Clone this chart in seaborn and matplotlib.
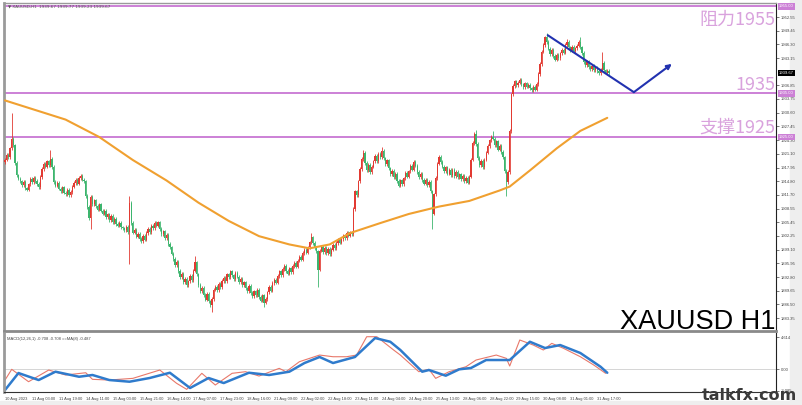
import numpy as np
import matplotlib
matplotlib.use("Agg")
import matplotlib.pyplot as plt
from matplotlib.patches import Rectangle
import seaborn as sns

# XAUUSD H1 closes, 10 Aug 2023 -> 31 Aug 17:00
closes = [
    1919.8, 1920.9, 1920.3, 1922.4, 1924.6, 1923.1, 1919.0, 1916.2, 1915.4, 1914.8,
    1913.9, 1914.6, 1913.2, 1912.9, 1914.1, 1915.3, 1914.7, 1915.6, 1914.9, 1914.2,
    1913.5, 1915.8, 1917.6, 1918.9, 1918.2, 1919.4, 1918.6, 1919.9, 1918.1, 1914.6,
    1913.8, 1914.5, 1913.1, 1912.6, 1913.4, 1912.2, 1911.8, 1912.9, 1911.6, 1912.3,
    1913.6, 1914.4, 1915.1, 1914.3, 1915.6, 1916.0, 1915.2, 1914.8, 1911.4, 1908.9,
    1906.3, 1911.2, 1909.6, 1910.4, 1909.1, 1908.3, 1909.5, 1908.1, 1907.4, 1908.0,
    1906.6, 1907.2, 1905.9, 1906.8, 1905.4, 1906.1, 1905.0, 1904.6, 1905.3, 1904.2,
    1904.0, 1903.6, 1904.3, 1903.2, 1909.8, 1905.2, 1903.0, 1903.7, 1902.1, 1902.8,
    1901.5, 1901.0, 1902.2, 1901.4, 1902.9, 1903.8, 1903.1, 1904.5, 1904.0, 1905.2,
    1904.6, 1905.4, 1903.9, 1902.7, 1903.3, 1901.8, 1902.5, 1900.4, 1899.6, 1898.2,
    1896.9, 1895.6, 1896.3, 1894.2, 1892.8, 1893.5, 1891.7, 1892.4, 1890.9, 1891.8,
    1893.0, 1892.1, 1894.3, 1896.2, 1893.4, 1891.0, 1889.6, 1890.3, 1888.7, 1887.6,
    1888.9, 1887.2, 1886.4, 1887.8, 1889.9, 1890.6, 1889.8, 1891.2, 1890.5, 1891.9,
    1892.6, 1891.8, 1893.4, 1892.7, 1894.1, 1893.2, 1892.4, 1893.8, 1892.9, 1891.6,
    1892.3, 1890.9, 1891.6, 1890.2, 1889.6, 1890.8, 1889.1, 1888.4, 1889.5, 1888.7,
    1889.8, 1888.2, 1887.4, 1888.6, 1886.9, 1887.8, 1889.3, 1890.5, 1889.7, 1891.4,
    1892.2, 1891.5, 1893.0, 1894.1, 1893.3, 1894.6, 1895.4, 1894.2, 1893.6, 1894.8,
    1894.0, 1895.3, 1896.1, 1895.2, 1896.6, 1897.5, 1896.8, 1898.3, 1899.1, 1898.4,
    1899.6, 1900.8, 1901.9, 1900.6, 1899.4, 1898.7, 1894.5, 1898.9, 1899.8, 1898.6,
    1899.5, 1898.3, 1899.2, 1898.0, 1899.1, 1900.2, 1899.4, 1900.6, 1901.3, 1900.7,
    1901.5, 1902.4, 1901.8, 1902.9, 1902.3, 1903.1, 1902.6, 1908.4, 1912.5, 1911.6,
    1914.8, 1917.6, 1919.9, 1921.3, 1919.0, 1917.4, 1918.6, 1916.9, 1918.2, 1919.4,
    1920.6, 1919.5, 1921.2, 1920.4, 1921.8, 1920.1, 1918.7, 1919.6, 1917.8, 1916.5,
    1917.2, 1915.8, 1916.6, 1914.9, 1913.8, 1915.0, 1914.2, 1915.5, 1916.8, 1915.9,
    1917.1, 1918.3, 1917.5, 1919.2, 1918.4, 1917.0, 1915.8, 1916.6, 1915.1, 1914.3,
    1915.2, 1914.0, 1914.7, 1912.5, 1907.4, 1911.8, 1915.6, 1918.9, 1920.4, 1919.3,
    1918.2, 1917.1, 1918.0, 1916.6, 1917.5, 1916.2, 1917.4, 1916.0, 1916.9, 1915.7,
    1916.4, 1915.3, 1916.1, 1914.8, 1915.6, 1914.5, 1915.9, 1919.8, 1923.6, 1925.8,
    1923.4, 1920.2, 1918.6, 1919.5, 1918.0, 1919.8, 1921.4, 1922.9, 1924.2, 1925.0,
    1924.6, 1923.2, 1924.0, 1922.1, 1923.0, 1921.5, 1920.3, 1917.2, 1914.6, 1916.9,
    1926.4, 1934.8, 1936.7, 1937.8, 1936.9, 1937.5, 1938.2, 1937.1, 1936.4, 1937.3,
    1936.6, 1937.0, 1936.2, 1935.8, 1936.5, 1935.9, 1937.2, 1939.5, 1941.8, 1944.6,
    1946.2, 1947.9, 1946.8, 1945.3, 1944.0, 1945.1, 1943.6, 1942.8, 1943.9, 1943.1,
    1944.2, 1945.0, 1944.4, 1946.1, 1946.8, 1945.6, 1944.9, 1945.8, 1944.7, 1945.4,
    1946.0, 1946.9, 1945.6, 1944.3, 1942.2, 1941.5, 1942.4, 1941.1, 1940.6, 1941.3,
    1940.4, 1941.0, 1940.2, 1939.6, 1940.5, 1942.1, 1940.3, 1939.8, 1940.2, 1939.67,
]
first_open = 1919.2

# candles with long shadows
wick_idx = [4, 27, 45, 51, 74, 113, 123, 154, 182, 186, 213, 224, 254, 280, 290, 298, 322, 334, 342, 355]
wick_hi = [1930.6, 1921.9, 1916.6, np.nan, 1911.5, 1897.6, np.nan, np.nan, 1903.0, np.nan,
           1922.0, 1922.8, np.nan, 1926.6, 1926.4, np.nan, 1949.0, 1947.6, 1948.0, 1944.5]
wick_lo = [np.nan, np.nan, np.nan, 1903.8, 1895.8, np.nan, 1884.8, 1885.9, np.nan, 1890.6,
           np.nan, np.nan, 1903.8, np.nan, np.nan, 1911.5, np.nan, np.nan, np.nan, np.nan]

# orange moving average
ma_idx = [0, 36, 56, 76, 96, 115, 133, 151, 169, 181, 193, 205, 223, 240, 258, 276, 294, 300, 312, 328, 342, 358]
ma_val = [1933.4, 1929.0, 1925.0, 1919.7, 1915.0, 1909.9, 1905.7, 1902.2, 1900.3, 1899.4, 1900.3,
          1902.9, 1905.2, 1907.3, 1909.0, 1910.3, 1912.7, 1913.6, 1917.3, 1922.4, 1926.4, 1929.4]

# MACD panel
macd_idx = [0, 4, 14, 26, 36, 48, 52, 62, 76, 92, 102, 108, 117, 125, 135, 143, 151, 163, 167, 175,
            187, 195, 203, 209, 215, 221, 231, 235, 246, 252, 256, 264, 274, 280, 292, 298, 300, 306,
            314, 320, 325, 332, 342, 350, 357]
macd_val = [-1.53, 0.0, -1.77, -0.10, -0.81, -0.49, -1.43, -1.53, -1.29, -0.10, -2.0, -2.86, -0.57,
            -2.24, -0.57, -0.34, -0.96, 0.14, -0.34, 1.09, 2.04, 1.80, 1.80, 2.04, 4.66, 4.66, 2.76,
            2.04, -0.34, 0.0, -1.29, -0.34, 0.37, 1.33, 2.04, 1.57, 0.47, 4.19, 3.47, 2.76, 3.71, 3.0,
            1.80, 0.61, -0.57]
sig_idx = [0, 8, 20, 30, 44, 52, 62, 74, 86, 98, 110, 121, 130, 145, 157, 169, 178, 187, 195, 208,
           220, 229, 235, 248, 252, 262, 270, 277, 286, 300, 312, 321, 330, 342, 354, 358]
sig_val = [-2.96, -0.53, -1.53, -0.34, -1.06, -0.81, -1.53, -1.77, -1.24, -0.49, -2.67, -1.24, -1.96,
           -0.49, -0.81, -0.34, 0.90, 1.76, 0.90, 1.76, 4.47, 3.94, 2.76, -0.34, -0.10, -0.91, 0.0,
           0.19, 1.33, 1.33, 3.94, 3.04, 3.47, 2.33, 0.37, -0.49]

levels = [1955, 1935, 1925]
level_text = ["阻力1955", "1935", "支撑1925"]
last_price = 1939.67

# forecast arrow (bar index, price)
arrow_x = [322.6, 373.8, 396.4]
arrow_y = [1948.4, 1935.3, 1941.8]

price_ticks = [1952.55, 1949.45, 1946.30, 1943.15, 1936.85, 1933.75, 1930.60, 1927.45, 1924.30,
               1921.10, 1917.95, 1914.80, 1911.70, 1908.55, 1905.45, 1902.25, 1899.10, 1895.95,
               1892.80, 1889.65, 1886.50, 1883.35]
time_ticks = list(range(0, 353, 16))
time_labels = ["10 Aug 2023", "11 Aug 03:00", "11 Aug 19:00", "14 Aug 11:00", "15 Aug 03:00",
               "15 Aug 21:00", "16 Aug 14:00", "17 Aug 07:00", "17 Aug 23:00", "18 Aug 16:00",
               "21 Aug 09:00", "22 Aug 02:00", "22 Aug 18:00", "23 Aug 11:00", "24 Aug 04:00",
               "24 Aug 20:00", "25 Aug 13:00", "28 Aug 06:00", "28 Aug 22:00", "29 Aug 15:00",
               "30 Aug 08:00", "31 Aug 01:00", "31 Aug 17:00"]

sns.set_theme(style="white")
plt.rcParams['font.family'] = ['Liberation Sans', 'Noto Sans CJK SC', 'DejaVu Sans']

W, H = 802, 405
fig = plt.figure(figsize=(W / 100, H / 100), dpi=100, facecolor='white')
fig.patches.append(Rectangle((790 / W, 0), 12 / W, 1, transform=fig.transFigure, color='#eeeeee', zorder=-1))
fig.patches.append(Rectangle((0, 0), 1, 4 / H, transform=fig.transFigure, color='#eeeeee', zorder=-1))

def fx(px):
    return px / W

def fy(py):
    return 1 - py / H

ax = fig.add_axes([fx(4), fy(331), (776 - 4) / W, (331 - 3) / H])
ax2 = fig.add_axes([fx(4), fy(392), (776 - 4) / W, (392 - 333) / H])

pink = '#CC80D6'
pink_txt = '#D9A2DD'
small = 3.0

# candlesticks
c = np.array(closes)
o = np.array([first_open] + closes[:-1])
hi = np.maximum(o, c) + 0.4
lo = np.minimum(o, c) - 0.4
for i, h, l in zip(wick_idx, wick_hi, wick_lo):
    if not np.isnan(h):
        hi[i] = h
    if not np.isnan(l):
        lo[i] = l
idx = np.arange(len(c))
col = np.where(c >= o, '#E23A32', '#3DB56E')
ax.vlines(idx, lo, hi, colors=col, lw=0.6, zorder=3)
ax.bar(idx, np.maximum(np.abs(c - o), 0.15), bottom=np.minimum(o, c), width=0.75,
       color=col, lw=0, zorder=4)

sns.lineplot(x=ma_idx, y=ma_val, ax=ax, color='#F0A030', lw=1.5, zorder=5)

for lv in levels:
    ax.axhline(lv, color=pink, lw=1.4, zorder=2)

ax.plot(arrow_x[:2], arrow_y[:2], color='#2232B0', lw=1.5, zorder=6)
ax.annotate('', xy=(arrow_x[2], arrow_y[2]), xytext=(arrow_x[1], arrow_y[1]),
            arrowprops=dict(arrowstyle='-|>', color='#2232B0', lw=1.5, mutation_scale=7,
                            shrinkA=0, shrinkB=0), zorder=6)

ax.set_xlim(-0.6, 458.3)
ax.set_ylim(1880.4, 1955.8)
ax.set_xticks([])
ax.yaxis.tick_right()
ax.set_yticks(price_ticks)
ax.set_yticklabels([f"{v:.2f}" for v in price_ticks], fontsize=small, color='#444444')
ax.tick_params(axis='y', length=2, width=0.5, pad=1.5, color='#444444')
for s in ['top', 'bottom', 'left', 'right']:
    ax.spines[s].set_visible(True)
ax.spines['left'].set_color('#9a9a9a')
ax.spines['left'].set_linewidth(2)
ax.spines['top'].set_color('#9a9a9a')
ax.spines['top'].set_linewidth(1)
ax.spines['bottom'].set_color('#8a8a8a')
ax.spines['bottom'].set_linewidth(2)
ax.spines['right'].set_color('#222222')
ax.spines['right'].set_linewidth(0.8)

for lv in levels:
    ax.text(1.004, lv, f"{lv:.2f}", transform=ax.get_yaxis_transform(), fontsize=small,
            color='white', va='center', ha='left', zorder=10,
            bbox=dict(boxstyle='square,pad=0.3', fc=pink, ec='none'))
ax.text(1.004, last_price, f"{last_price:.2f}", transform=ax.get_yaxis_transform(), fontsize=small,
        color='white', va='center', ha='left', zorder=10,
        bbox=dict(boxstyle='square,pad=0.3', fc='black', ec='none'))

# MACD
ax2.axhline(0, color='#cfcfcf', lw=0.6)
sns.lineplot(x=macd_idx, y=macd_val, ax=ax2, color='#E8786A', lw=0.8)
sns.lineplot(x=sig_idx, y=sig_val, ax=ax2, color='#2F7BCC', lw=1.8)
ax2.set_xlim(-0.6, 458.3)
ax2.set_ylim(-3.24, 5.19)
ax2.yaxis.tick_right()
ax2.set_yticks([4.614, 0.0, -3.085])
ax2.set_yticklabels(["4.614", "0.00", "-3.085"], fontsize=small, color='#444444')
ax2.tick_params(axis='y', length=2, width=0.5, pad=1.5, color='#444444')
ax2.set_xticks(time_ticks)
ax2.set_xticklabels(time_labels, fontsize=2.9, color='#444444', ha='left')
ax2.tick_params(axis='x', length=2, width=0.5, pad=1.5, color='#444444')
for s in ['top', 'bottom', 'left', 'right']:
    ax2.spines[s].set_visible(True)
ax2.spines['left'].set_color('#9a9a9a')
ax2.spines['left'].set_linewidth(2)
ax2.spines['top'].set_visible(False)
ax2.spines['bottom'].set_color('#333333')
ax2.spines['bottom'].set_linewidth(0.8)
ax2.spines['right'].set_color('#222222')
ax2.spines['right'].set_linewidth(0.8)
ax2.text(0.004, 0.93, "MACD(12,26,1) -0.708 -0.708 ==MA(8) -0.487", transform=ax2.transAxes,
         fontsize=small, color='#444444', va='top', ha='left')

# overlay text
fig.text(fx(8), fy(6), "▼ XAUUSD,H1  1939.67 1939.77 1939.23 1939.67", fontsize=small,
         color='#555555', va='center', ha='left', family=['DejaVu Sans'])
fig.text(fx(775), fy(25), level_text[0], fontsize=13, color=pink_txt, ha='right', va='baseline',
         family=['Noto Sans CJK SC', 'DejaVu Sans'])
fig.text(fx(775), fy(90), level_text[1], fontsize=13, color=pink_txt, ha='right', va='baseline',
         family=['Noto Sans CJK SC', 'DejaVu Sans'])
fig.text(fx(775), fy(133), level_text[2], fontsize=13, color=pink_txt, ha='right', va='baseline',
         family=['Noto Sans CJK SC', 'DejaVu Sans'])
fig.text(fx(775), fy(329), "XAUUSD H1", fontsize=19.5, color='black', ha='right', va='baseline',
         family=['Liberation Sans'])
fig.text(fx(797), fy(400), "talkfx.com", fontsize=11.5, color='#3a3a3a', ha='right', va='baseline',
         fontweight='bold', family=['DejaVu Sans'])

fig.savefig('out.png', dpi=100, facecolor=fig.get_facecolor())
